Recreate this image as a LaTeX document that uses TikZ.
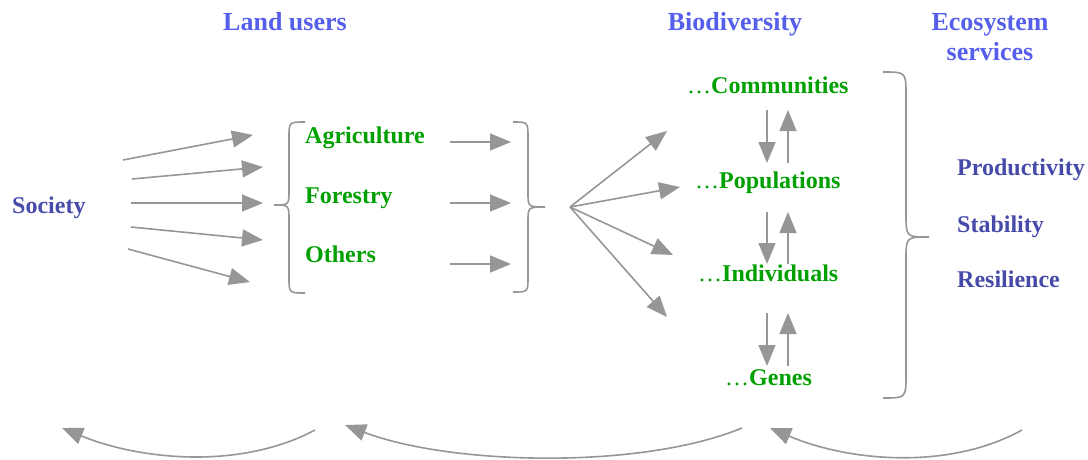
\documentclass[tikz,border=0pt]{standalone}
\usepackage{fontspec}
\setmainfont{Liberation Serif}
\usetikzlibrary{arrows.meta,positioning}
\definecolor{titleblue}{RGB}{85,95,235}
\definecolor{darkblue}{RGB}{70,75,170}
\definecolor{leafgreen}{RGB}{0,160,0}
\definecolor{arrowgray}{RGB}{150,150,150}
\tikzset{
  flow/.style={draw=arrowgray, line width=1.6pt, -{Triangle[length=21pt,width=17pt]}},
  bracket/.style={draw=arrowgray, line width=1.6pt},
  headline/.style={text=titleblue, font=\fontsize{26}{30}\selectfont\bfseries, align=center, anchor=base, inner sep=0pt},
  darkitem/.style={text=darkblue, font=\fontsize{24}{28}\selectfont\bfseries, anchor=base west, inner sep=0pt},
  greenitem/.style={text=leafgreen, font=\fontsize{24}{28}\selectfont\bfseries, anchor=base west, inner sep=0pt}
}
\newcommand{\leveldots}{{\mdseries\ldots}}
\begin{document}
\begin{tikzpicture}[x=1pt, y=-1pt]
    \useasboundingbox (0,0) rectangle (1088,459);
    \node[headline] (landusers) at (285,30) {Land users};
    \node[headline] (biodiv) at (735,30) {Biodiversity};
    \node[headline] (ecoserv) at (990,60) {Ecosystem\\services};
    \node[darkitem] (society) at (12,213) {Society};
    \node[greenitem] (agri) at (305,143) {Agriculture};
    \node[greenitem] (forest) at (305,203) {Forestry};
    \node[greenitem] (others) at (305,262) {Others};
    \node[greenitem] (comm) at (687,93) {\leveldots Communities};
    \node[greenitem] (popul) at (695,188) {\leveldots Populations};
    \node[greenitem] (indiv) at (698,281) {\leveldots Individuals};
    \node[greenitem] (genes) at (725,385) {\leveldots Genes};
    \node[darkitem] (prod) at (957,175) {Productivity};
    \node[darkitem] (stab) at (957,232) {Stability};
    \node[darkitem] (resil) at (957,287) {Resilience};
    % braces
    \draw[bracket] (305,122) .. controls (289,122) .. (289,138) -- (289,190) .. controls (289,205) .. (274,205) .. controls (289,205) .. (289,220) -- (289,277) .. controls (289,293) .. (305,293);
    \draw[bracket] (513,122) .. controls (528,122) .. (528,138) -- (528,192) .. controls (528,207) .. (545,207) .. controls (528,207) .. (528,222) -- (528,277) .. controls (528,292) .. (513,292);
    \draw[bracket] (883,72) .. controls (906,72) .. (906,95) -- (906,214) .. controls (906,237) .. (929,237) .. controls (906,237) .. (906,260) -- (906,375) .. controls (906,398) .. (883,398);
    % society to land users
    \foreach \i/\xa/\ya/\xb/\yb in {1/123/160/253/135, 2/132/179/263/167, 3/131/203/263/203, 4/131/227/263/240, 5/128/249/250/282}{
      \coordinate (sa\i) at (\xa,\ya);
      \coordinate (sb\i) at (\xb,\yb);
      \draw[flow] (sa\i) -- (sb\i);
    }
    \foreach \i/\y in {1/142, 2/203, 3/264}{
      \coordinate (ma\i) at (450,\y);
      \coordinate (mb\i) at (511,\y);
      \draw[flow] (ma\i) -- (mb\i);
    }
    % fan to biodiversity levels
    \coordinate (fan) at (570,207);
    \foreach \i/\xb/\yb in {1/667/131, 2/680/187, 3/673/255, 4/667/317}{
      \coordinate (fb\i) at (\xb,\yb);
      \draw[flow] (fan) -- (fb\i);
    }
    \foreach \i/\ya/\yb in {1/110/163, 2/212/264, 3/313/366}{
      \coordinate (dt\i) at (767,\ya);
      \coordinate (db\i) at (767,\yb);
      \coordinate (ub\i) at (788,\yb);
      \coordinate (ut\i) at (788,\ya);
      \draw[flow] (dt\i) -- (db\i);
      \draw[flow] (ub\i) -- (ut\i);
    }
    % feedback
    \coordinate (ra) at (1022,430);
    \coordinate (rb) at (770,428);
    \coordinate (qa) at (742,428);
    \coordinate (qb) at (345,425);
    \coordinate (pa) at (315,430);
    \coordinate (pb) at (62,428);
    \draw[flow] (ra) .. controls (950,470) and (850,462) .. (rb);
    \draw[flow] (qa) .. controls (640,470) and (450,465) .. (qb);
    \draw[flow] (pa) .. controls (240,470) and (140,460) .. (pb);
\end{tikzpicture}
\end{document}
